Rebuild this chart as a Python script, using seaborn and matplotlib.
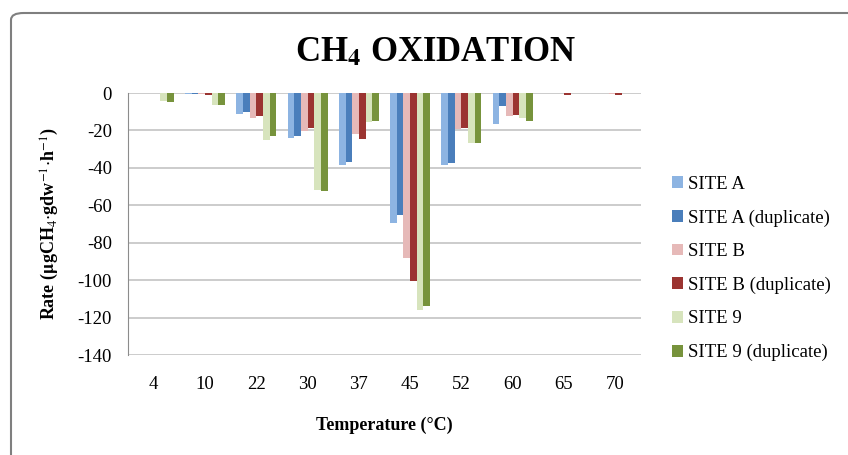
import numpy as np
import pandas as pd
import matplotlib
matplotlib.use('Agg')
import matplotlib.pyplot as plt
import seaborn as sns
from matplotlib.patches import FancyBboxPatch

temps = ['4', '10', '22', '30', '37', '45', '52', '60', '65', '70']
sites = ['SITE A', 'SITE A (duplicate)', 'SITE B', 'SITE B (duplicate)',
         'SITE 9', 'SITE 9 (duplicate)']

site_a = [0, -0.5, -11.0, -24.0, -38.3, -69.7, -38.7, -16.6, 0, 0]
site_a_dup = [0, -0.5, -10.3, -23.0, -37.0, -65.3, -37.6, -6.9, 0, 0]
site_b = [0, -0.5, -13.2, -20.3, -21.9, -88.4, -19.4, -12.1, 0, -0.5]
site_b_dup = [0, -1.0, -12.5, -18.9, -24.6, -100.5, -18.9, -11.6, -1.0, -1.0]
site_9 = [-4.5, -6.2, -25.0, -51.7, -15.7, -115.8, -26.9, -13.5, 0, 0]
site_9_dup = [-5.0, -6.5, -22.8, -52.6, -14.8, -114.0, -26.5, -14.8, 0, 0]

colors = ['#8DB4E2', '#4A7EBB', '#E6B9B8', '#9B3431', '#D7E4BD', '#77933C']

values = [site_a, site_a_dup, site_b, site_b_dup, site_9, site_9_dup]
rows = []
for s, v in zip(sites, values):
    for t, r in zip(temps, v):
        rows.append({'Temperature': t, 'Site': s, 'Rate': r})
df = pd.DataFrame(rows)

sns.set_style('white')
plt.rcParams['font.family'] = ['Liberation Serif', 'DejaVu Serif']
plt.rcParams['mathtext.fontset'] = 'stix'
plt.rcParams['axes.unicode_minus'] = False
plt.rcParams['text.color'] = 'black'
plt.rcParams['xtick.color'] = 'black'
plt.rcParams['ytick.color'] = 'black'
plt.rcParams['axes.labelcolor'] = 'black'

fig = plt.figure(figsize=(8.48, 4.55), dpi=100)

# rounded chart frame
frame = FancyBboxPatch((11 / 848, -0.05), 1.2, 1.0 - 13 / 455 + 0.05,
                       boxstyle='round,pad=0,rounding_size=0.015',
                       transform=fig.transFigure, facecolor='white',
                       edgecolor='#7f7f7f', linewidth=1.5, zorder=-10)
fig.patches.append(frame)

ax = fig.add_axes([128 / 848, 100 / 455, 513 / 848, 262 / 455])
ax.set_facecolor('none')

sns.barplot(data=df, x='Temperature', y='Rate', hue='Site', order=temps,
            hue_order=sites, palette=colors, width=0.78, saturation=1,
            edgecolor='none', linewidth=0, ax=ax, zorder=3)

ax.set_ylim(-140, 0)
ax.set_yticks(np.arange(-140, 1, 20))
ax.yaxis.grid(True, color='#c8c8c8', linewidth=1.3, zorder=0)
ax.set_axisbelow(True)
for side in ['top', 'right', 'bottom']:
    ax.spines[side].set_visible(False)
ax.spines['left'].set_color('#8c8c8c')
ax.tick_params(axis='y', direction='out', length=5, color='#8c8c8c',
               labelsize=13.5, pad=6.5, labelcolor='black')
ax.tick_params(axis='x', length=0, labelsize=13.5, pad=15, labelcolor='black')
ax.set_xlim(-0.5, len(temps) - 0.5)

ax.set_xlabel('Temperature (°C)', fontsize=13, fontweight='bold', labelpad=17)
ax.set_ylabel(r'Rate ($\mathbf{\mu}$gCH$_4$$\cdot$gdw$^{-1}$$\cdot$h$^{-1}$)',
              fontsize=13, fontweight='bold', labelpad=12)

fig.text(436 / 848, 402 / 455, r'CH$_\mathbf{4}$ OXIDATION', ha='center',
         va='center', fontsize=25, fontweight='bold')

leg = ax.legend(loc='center left', bbox_to_anchor=(1.045, 0.33), frameon=False,
                fontsize=13.5, handlelength=0.6, handleheight=0.6,
                labelspacing=0.88, handletextpad=0.3, borderaxespad=0)

fig.savefig('out.png', dpi=100)
